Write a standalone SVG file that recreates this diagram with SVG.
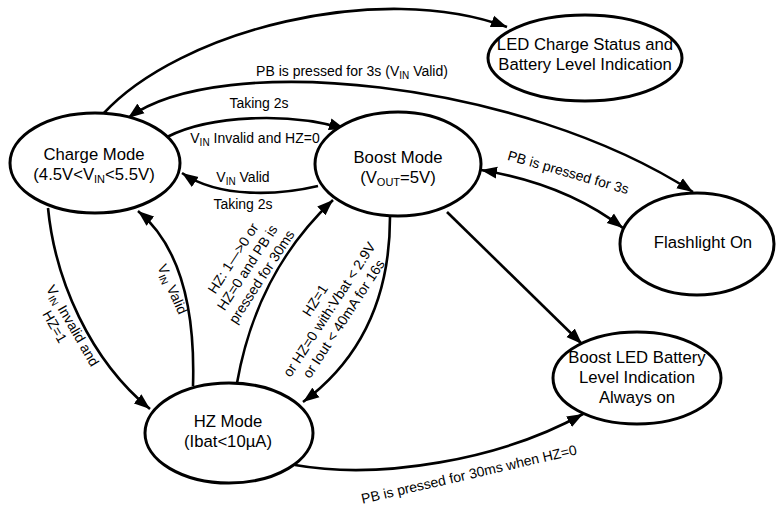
<svg xmlns="http://www.w3.org/2000/svg" width="776" height="508" viewBox="0 0 776 508">
<defs>
<marker id="ah" markerUnits="userSpaceOnUse" markerWidth="17" markerHeight="13" refX="16" refY="6.5" orient="auto-start-reverse">
<path d="M0,0.5 L16,6.5 L0,12.5 z" fill="#000"/>
</marker>
<style>
.node ellipse{fill:#fff;stroke:#000;stroke-width:3}
.node text{font-family:"Liberation Sans",Arial,sans-serif;font-size:16.7px;text-anchor:middle;fill:#000}
.edge{fill:none;stroke:#000;stroke-width:2.6;marker-end:url(#ah)}
.both{marker-start:url(#ah)}
.lbl{font-family:"Liberation Sans",Arial,sans-serif;font-size:14px;text-anchor:middle;fill:#000}
.sub{font-size:10px}
</style>
</defs>
<rect width="776" height="508" fill="#fff"/>
<g id="connectors">
<path class="edge" d="M103,114 C180,30 380,-20 507,27"/>
<path class="edge both" d="M128,118 C220,50 520,80 693,192"/>
<path class="edge" d="M167,137 C210,115 290,112 345,129"/>
<path class="edge" d="M318,186 C280,195 220,199 182,173"/>
<path class="edge" d="M48,208 C55,280 90,360 150,409"/>
<path class="edge" d="M193,386 C195,320 185,250 138,211"/>
<path class="edge" d="M237,383 C250,310 280,250 333,200"/>
<path class="edge" d="M390,217 C390,300 360,360 303,402"/>
<path class="edge both" d="M481,170 C530,178 580,195 623,228"/>
<path class="edge" d="M447,212 L582,344"/>
<path class="edge" d="M295,465 C380,480 500,460 583,414"/>
</g>
<g id="edge-labels">
<text class="lbl" x="352" y="76">PB is pressed for 3s (V<tspan class="sub" dy="3">IN</tspan><tspan dy="-3"> Valid)</tspan></text>
<text class="lbl" x="259" y="108">Taking 2s</text>
<text class="lbl" x="255" y="143">V<tspan class="sub" dy="3">IN</tspan><tspan dy="-3"> Invalid and HZ=0</tspan></text>
<text class="lbl" x="243" y="182">V<tspan class="sub" dy="3">IN</tspan><tspan dy="-3">  Valid</tspan></text>
<text class="lbl" x="243" y="209">Taking 2s</text>
<g transform="translate(65,330) rotate(60)">
<text class="lbl" x="0" y="-4">V<tspan class="sub" dy="3">IN</tspan><tspan dy="-3"> Invalid and</tspan></text>
<text class="lbl" x="-8" y="12">HZ=1</text>
</g>
<g transform="translate(168,291) rotate(66)">
<text class="lbl" x="0" y="0">V<tspan class="sub" dy="3">IN</tspan><tspan dy="-3"> Valid</tspan></text>
</g>
<g transform="translate(248,268) rotate(-57)">
<text class="lbl" x="0" y="-13">HZ: 1—&gt;0 or</text>
<text class="lbl" x="0" y="4">HZ=0 and PB is</text>
<text class="lbl" x="0" y="21">pressed for 30ms</text>
</g>
<g transform="translate(330,310) rotate(-57)">
<text class="lbl" x="0" y="-13">HZ=1</text>
<text class="lbl" x="0" y="4">or HZ=0 with:Vbat &lt; 2.9V</text>
<text class="lbl" x="0" y="21">or Iout &lt; 40mA for 16s</text>
</g>
<g transform="translate(567,177) rotate(16)">
<text class="lbl" x="0" y="0">PB is pressed for 3s</text>
</g>
<g transform="translate(470,479) rotate(-13)">
<text class="lbl" x="0" y="0">PB is pressed for 30ms when HZ=0</text>
</g>
</g>
<g id="charge" class="node">
<ellipse cx="95" cy="163" rx="85" ry="50"/>
<text x="94" y="160">Charge Mode</text>
<text x="94" y="180">(4.5V&lt;V<tspan font-size="11" dy="3">IN</tspan><tspan dy="-3">&lt;5.5V)</tspan></text>
</g>
<g id="boost" class="node">
<ellipse cx="398" cy="164" rx="83" ry="52"/>
<text x="398" y="163">Boost Mode</text>
<text x="398" y="183">(V<tspan font-size="11" dy="3">OUT</tspan><tspan dy="-3">=5V)</tspan></text>
</g>
<g id="ledcharge" class="node">
<ellipse cx="585" cy="58" rx="97" ry="43"/>
<text x="585" y="50">LED Charge Status and</text>
<text x="585" y="70">Battery Level Indication</text>
</g>
<g id="flashlight" class="node">
<ellipse cx="697" cy="244" rx="77" ry="51"/>
<text x="703" y="248">Flashlight On</text>
</g>
<g id="boostled" class="node">
<ellipse cx="637" cy="378" rx="84" ry="46"/>
<text x="637" y="363">Boost LED Battery</text>
<text x="637" y="383">Level Indication</text>
<text x="637" y="403">Always on</text>
</g>
<g id="hz" class="node">
<ellipse cx="229" cy="433" rx="84" ry="50"/>
<text x="228" y="427">HZ Mode</text>
<text x="228" y="447">(Ibat&lt;10µA)</text>
</g>
</svg>
